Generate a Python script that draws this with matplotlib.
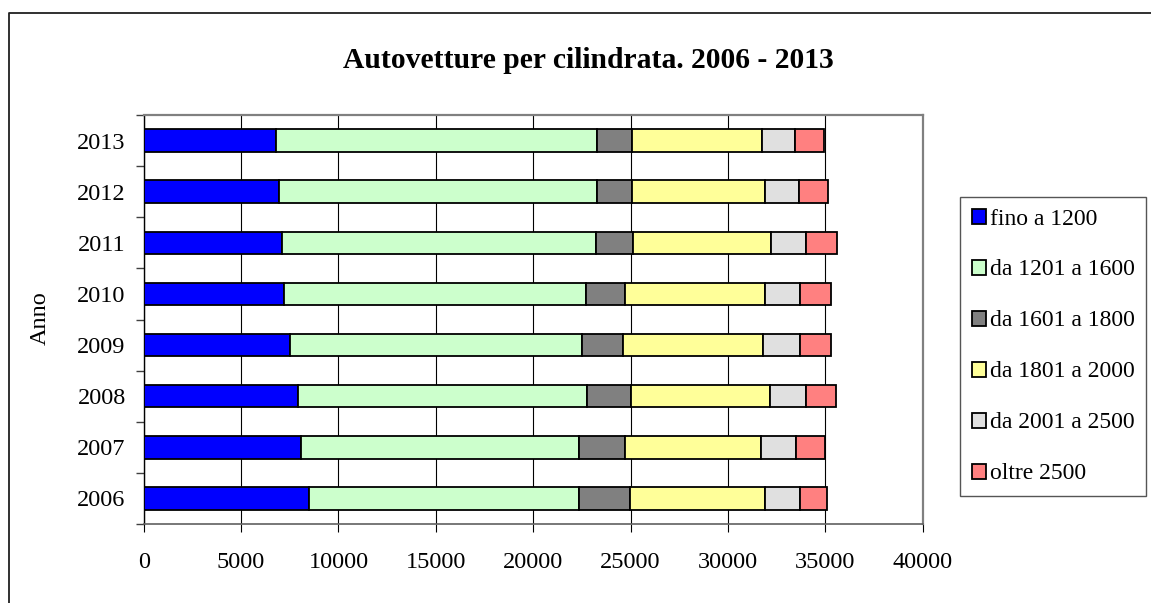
import matplotlib
matplotlib.use("Agg")
import matplotlib.pyplot as plt
from matplotlib.lines import Line2D
import numpy as np

years = ["2006", "2007", "2008", "2009", "2010", "2011", "2012", "2013"]
series_names = ["fino a 1200", "da 1201 a 1600", "da 1601 a 1800",
                "da 1801 a 2000", "da 2001 a 2500", "oltre 2500"]
fino_1200 = [8500, 8060, 7905, 7510, 7218, 7100, 6960, 6780]
da_1201_1600 = [13830, 14271, 14836, 14975, 15472, 16134, 16294, 16474]
da_1601_1800 = [2633, 2361, 2259, 2135, 2018, 1900, 1828, 1797]
da_1801_2000 = [6930, 7012, 7151, 7187, 7171, 7053, 6828, 6705]
da_2001_2500 = [1797, 1797, 1833, 1884, 1812, 1812, 1714, 1694]
oltre_2500 = [1386, 1458, 1555, 1576, 1607, 1607, 1489, 1473]
colors = ["#0000FF", "#CCFFCC", "#808080", "#FFFF99", "#E0E0E0", "#FF8080"]
title = "Autovetture per cilindrata. 2006 - 2013"
ylabel = "Anno"
xticks = [0, 5000, 10000, 15000, 20000, 25000, 30000, 35000, 40000]

plt.rcParams['font.family'] = ['Liberation Serif', 'DejaVu Serif']

W, H = 1151, 603
fig = plt.figure(figsize=(W / 100, H / 100), dpi=100)
ax = fig.add_axes([143.7 / W, 1 - 524 / H, (922.7 - 143.7) / W, (524 - 115) / H])

data = [fino_1200, da_1201_1600, da_1601_1800, da_1801_2000, da_2001_2500, oltre_2500]
ypos = np.arange(len(years))
left = np.zeros(len(years))
handles = []
for vals, name, c in zip(data, series_names, colors):
    b = ax.barh(ypos, vals, left=left, height=0.44, color=c, edgecolor="black",
                linewidth=1.3, label=name, zorder=3)
    left += np.array(vals)
    handles.append(b)

ax.set_xlim(0, 40000)
ax.set_ylim(-0.5, len(years) - 0.5)
ax.set_xticks(xticks)
ax.set_xticklabels([str(v) for v in xticks], fontsize=17.5)
ax.set_yticks(ypos)
ax.set_yticklabels(years, fontsize=17.5)
ax.set_yticks(np.arange(-0.5, len(years), 1.0), minor=True)
ax.tick_params(axis="y", which="major", length=0, pad=13)
ax.tick_params(axis="y", which="minor", length=6, width=1.0, color="#404040", direction="out")
ax.tick_params(axis="x", which="major", length=6, width=0.8, color="black", direction="out", pad=14)
ax.xaxis.grid(True, color="black", linewidth=0.8, zorder=0)
ax.set_axisbelow(True)

for s in ["top", "right"]:
    ax.spines[s].set_color("#808080")
    ax.spines[s].set_linewidth(1.6)
ax.spines["left"].set_color("black")
ax.spines["left"].set_linewidth(1.0)
ax.spines["bottom"].set_color("#606060")
ax.spines["bottom"].set_linewidth(1.2)

fig.text(40 / W, 1 - 318 / H, ylabel, rotation=90, fontsize=17.5, ha="center", va="center")
fig.text(588 / W, 1 - 60 / H, title, fontsize=21.3, fontweight="bold", ha="center", va="center")

leg = fig.legend(handles=handles, labels=series_names, loc="upper left",
                 bbox_to_anchor=(960 / W, 1 - 196.7 / H), fontsize=17,
                 handlelength=0.6, handleheight=0.6, handletextpad=0.15,
                 labelspacing=1.27, borderpad=0.5, borderaxespad=0,
                 fancybox=False, framealpha=1, edgecolor="#555555")
leg.get_frame().set_linewidth(1.0)

# outer chart border (left and top visible)
fig.add_artist(Line2D([9 / W, 9 / W, 1.0], [0.0, 1 - 12.5 / H, 1 - 12.5 / H],
                      transform=fig.transFigure, color="#202020", linewidth=1.3))

fig.savefig("out.png", dpi=100)
